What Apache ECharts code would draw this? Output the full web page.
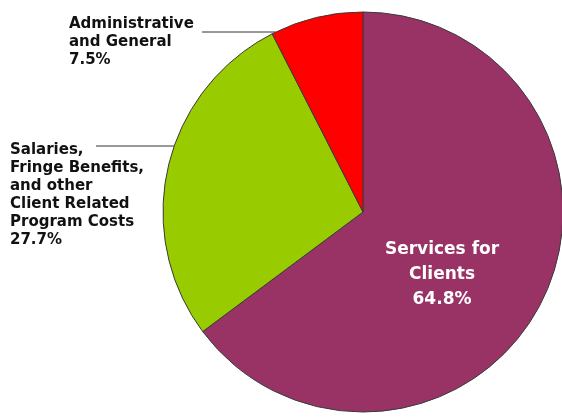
<!DOCTYPE html>
<html>
<head>
<meta charset="utf-8">
<script src="https://cdn.jsdelivr.net/npm/echarts@6/dist/echarts.min.js"></script>
<style>
  html, body { margin: 0; padding: 0; background: #fff; }
  #chart { width: 562px; height: 417px; }
</style>
</head>
<body>
<div id="chart"></div>
<script>
// slice data, clockwise from 12 o'clock
const names = [
  "Services for\nClients",
  "Salaries,\nFringe Benefits,\nand other\nClient Related\nProgram Costs",
  "Administrative\nand General"
];
const values = [64.8, 27.7, 7.5];
const colors = ["#993366", "#99cc00", "#ff0000"];

const cx = 363, cy = 212, R = 200;

// where each label goes (top-left for outside ones, centre for inside one)
const labelPos = [
  { x: 442, y: 275, align: "center", verticalAlign: "middle" },
  { x: 10, y: 141, align: "left", verticalAlign: "top", lineY: 146, lineX: 96 },
  { x: 69, y: 15, align: "left", verticalAlign: "top", lineY: 32, lineX: 202 }
];

let chart = echarts.init(document.getElementById("chart"));

let option = {
  animation: false,
  series: [
    {
      type: "pie",
      center: [cx, cy],
      radius: R,
      startAngle: 90,
      clockwise: true,
      itemStyle: { borderColor: "#3a3a3a", borderWidth: 1 },
      label: {
        formatter: "{b}\n{c}%",
        fontFamily: "DejaVu Sans",
        fontWeight: "bold",
        fontSize: 15,
        lineHeight: 18,
        color: "#111",
        overflow: "none"
      },
      labelLine: {
        show: true,
        lineStyle: { color: "#333", width: 1 }
      },
      labelLayout: function (params) {
        let p = labelPos[params.dataIndex];
        let res = { x: p.x, y: p.y, align: p.align, verticalAlign: p.verticalAlign };
        if (p.lineY !== undefined) {
          let dy = p.lineY - cy;
          let ex = cx - Math.sqrt(R * R - dy * dy);
          res.labelLinePoints = [[ex, p.lineY], [ex, p.lineY], [p.lineX, p.lineY]];
        }
        return res;
      },
      data: values.map((v, i) => {
        let d = { name: names[i], value: v, itemStyle: { color: colors[i] } };
        if (i === 0) {
          d.label = { position: "inside", color: "#fff", fontSize: 17, lineHeight: 25 };
          d.labelLine = { show: false };
        }
        return d;
      })
    }
  ]
};

chart.setOption(option);
</script>
</body>
</html>
